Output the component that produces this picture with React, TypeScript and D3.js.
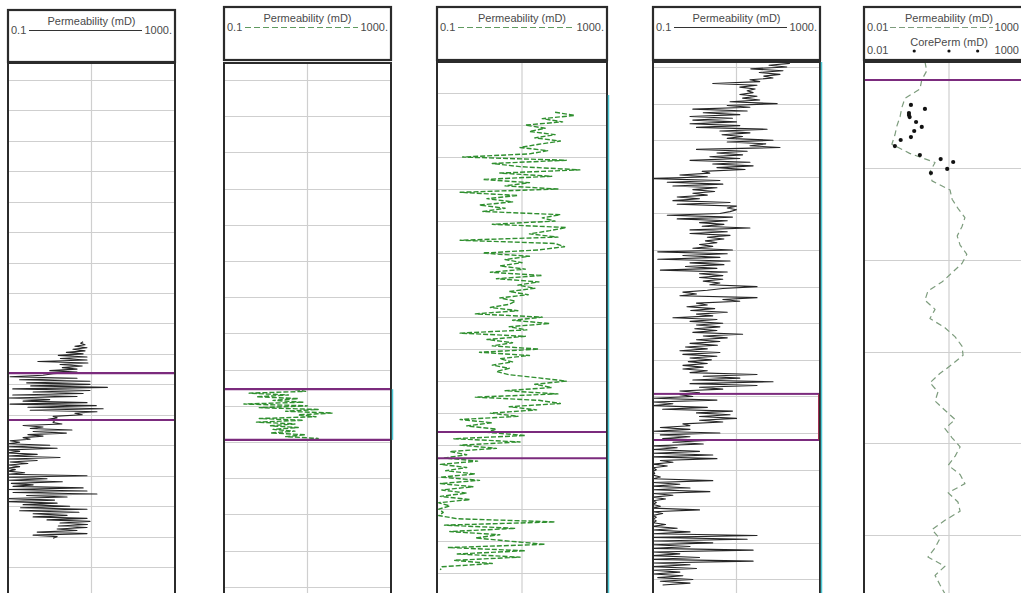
import { useEffect, useRef } from "react";
import * as d3 from "d3";

// ==== DATA (depth in ft, permeability in mD) ====

// track 1 - black permeability log, 0.5 ft sampling
const P1_START = 4756;
const P1_STEP = 0.5;
const P1_PERM = [
  6.3, 5.5, 7, 4, 7.8, 3.6, 7, 2.5, 6.3, 1.6, 7.8, 1.8, 7.8, 0.52, 8.2, 1.76, 6, 2, 4.5, 1.0,
  4.5, 1.2, 0.69, 0.112, 4.5, 0.19, 9.2, 0.28, 9.2, 0.35, 24, 0.13, 9.2, 0.4, 6.3, 0.13, 4.5, 0.1, 1.0, 0.23,
  7.8, 0.112, 13, 0.3, 19, 0.34, 13.5, 4, 6, 1.2, 1.5, 0.9, 1.3, 1.2, 1.96, 0.23, 0.69, 0.34, 3.4, 0.4,
  2.5, 0.3, 0.69, 0.23, 0.34, 0.112, 0.19, 0.1, 1.0, 0.1, 1.5, 0.1, 0.19, 0.1, 0.5, 0.1, 1.76, 0.1, 0.5, 0.112,
  0.3, 0.1, 0.19, 0.1, 0.15, 0.1, 0.25, 0.1, 7.8, 0.1, 0.86, 0.1, 2, 0.12, 0.4, 0.132, 6.3, 0.1, 7.8, 0.132,
  13.5, 0.28, 2.6, 0.1, 1.3, 0.1, 1.5, 0.23, 3, 0.2, 7.8, 0.19, 5, 0.4, 2.6, 0.4, 7.8, 0.86, 9.2, 1.76,
  8, 1.6, 7.8, 1.5, 4.5, 0.5, 7.8, 0.4, 1.5, 1.2,
];

// track 2 - green dashed log, 0.5 ft sampling
const P2_START = 4755.5;
const P2_STEP = 0.5;
const P2_PERM = [
  5, 9, 0.4, 3.5, 0.6, 6, 1.5, 8, 0.3, 10, 0.7, 18, 3, 40, 6, 16, 0.7, 8, 0.6, 5, 1.3,
  6, 1.5, 5, 1.3, 9, 3, 18, 8,
];

// track 3 - green dashed log, 1 ft sampling
const P3_START = 4676;
const P3_STEP = 1;
const P3_PERM = [
  60, 175, 30, 90, 12, 35, 15, 60, 20, 80, 25, 9, 40, 15, 0.4, 110, 2, 9, 230, 3,
  50, 1.2, 15, 4, 70, 0.35, 8, 1.5, 6, 1, 4, 1.2, 80, 30, 60, 2, 110, 45, 15, 70,
  0.35, 60, 100, 25, 1.2, 15, 4, 10, 3, 12, 1.8, 30, 2.5, 25, 8, 20, 5, 14, 3, 7,
  5, 1.8, 8, 0.8, 30, 6, 45, 5, 13, 0.35, 12, 1.5, 6, 2, 25, 1, 15, 3, 6, 2,
  5, 2.5, 5, 25, 110, 20, 50, 4, 70, 0.8, 25, 80, 5, 22, 1.8, 8, 0.35, 2, 0.5, 2.5,
  1.5, 12, 0.25, 9, 0.35, 2.5, 0.2, 0.5, 0.15, 0.9, 0.12, 0.5, 0.16, 0.8, 0.12, 1, 0.12, 0.7, 0.13, 0.5,
  0.12, 0.6, 0.11, 0.2, 0.11, 0.14, 0.11, 0.3, 60, 0.15, 7, 0.2, 3, 0.8, 5, 35, 0.18, 12, 0.3, 9,
  0.25, 2, 0.13, 0.12,
];

// track 4 - black permeability log, 0.5 ft sampling
const P4_START = 4669;
const P4_STEP = 0.5;
const P4_PERM = [
  190, 60, 160, 22, 130, 35, 110, 45, 75, 21, 36, 2.7, 31, 12, 28, 18, 25, 12, 31, 14,
  36, 7, 94, 6, 21, 0.9, 18, 1.6, 12, 0.77, 8, 0.9, 10, 0.77, 12, 1.1, 54, 4, 21, 4.5,
  14, 6, 75, 6, 50, 21, 110, 1.1, 18, 3.4, 14, 2.3, 12, 0.77, 21, 2.7, 25, 3.4, 16, 1.5,
  2.3, 0.44, 2, 0.1, 4, 0.22, 4.7, 0.3, 3.4, 0.9, 3, 0.9, 2, 0.38, 1.3, 0.3, 7, 0.38, 10, 6,
  10, 7, 4, 0.22, 8, 0.38, 6, 1.3, 5, 1.5, 21, 0.77, 6, 0.77, 7, 2, 5, 1.8, 3.4, 1.3,
  2.7, 0.9, 8, 0.13, 6, 0.52, 4, 0.13, 7, 0.77, 5, 0.6, 3.4, 0.15, 6, 1.3, 4.7, 1.3, 4.7, 1.6,
  4, 2.3, 31, 4.7, 2, 0.52, 1.1, 0.44, 31, 4.7, 12, 1.1, 2, 0.65, 3, 0.8, 6, 1.1, 2.7, 0.3,
  3.4, 0.77, 4.7, 1.1, 4, 1, 3.4, 0.9, 14, 1.6, 6, 1.1, 4, 0.77, 3.5, 0.6, 2, 0.44, 4, 0.52,
  3.4, 0.77, 2.5, 0.7, 2, 0.52, 1.6, 0.52, 2, 0.77, 31, 1.6, 12, 0.9, 75, 0.77, 31, 1.3, 4.7, 0.44,
  1.3, 0.44, 0.9, 0.1, 3.4, 0.1, 0.3, 0.1, 2, 0.17, 8, 1.1, 7, 1.3, 10, 1.3, 4.7, 0.52, 0.77, 0.15,
  0.77, 0.1, 4, 0.15, 0.77, 0.17, 2, 0.3, 1.6, 0.1, 0.38, 0.1, 1.3, 0.1, 2.7, 0.1, 3.4, 0.15, 0.3, 0.1,
  0.22, 0.1, 0.12, 0.1, 0.11, 0.1, 0.15, 0.1, 2.7, 0.1, 0.44, 0.1, 0.77, 0.1, 2.3, 0.1, 0.3, 0.1, 0.2, 0.1,
  0.12, 0.1, 0.15, 0.1, 1.3, 0.1, 0.17, 0.1, 0.12, 0.1, 0.12, 0.1, 0.2, 0.1, 0.38, 0.1, 0.77, 0.1, 31, 0.1,
  18, 0.1, 2.7, 0.1, 0.77, 0.1, 25, 0.1, 0.44, 0.1, 1.3, 0.1, 25, 0.1, 0.77, 0.1, 1.1, 0.1, 0.44, 0.1,
  0.52, 0.13, 0.9, 0.15, 0.77, 0.17,
];

// track 5 - smooth dashed log, 5 ft sampling, plus core plugs
const P5_START = 4642;
const P5_STEP = 5;
const P5_PERM = [
  0.62, 0.7, 0.5, 0.44, 0.16, 0.13, 0.115, 0.093, 0.081, 0.066, 0.22, 1.23, 0.87, 1.0, 3.4,
  3.9, 5.8, 9.3, 7.6, 5.5, 6.7, 10.6, 7.6, 3.9, 2.0, 0.76, 0.62, 1.23, 0.87, 2.4, 4.8, 7.6,
  8.2, 3.9, 1.7, 0.87, 1.5, 1.23, 2.4, 4.8, 2.4, 3.9, 6.7, 4.8, 3.0, 6.7, 9.3, 3.0, 5.8,
  6.7, 2.4, 1.0, 1.7, 1.23, 0.76, 2.4, 1.23, 1.7, 2.4,
];
const CORE_DEPTH = [
  4665.6, 4667.8, 4670.0, 4671.1, 4672.2, 4674.9, 4677.6, 4679.8, 4683.1, 4684.7, 4688.0,
  4692.9, 4695.1, 4696.7, 4700.5, 4702.7,
];
const CORE_PERM = [
  0.24, 0.62, 0.21, 0.21, 0.22, 0.34, 0.5, 0.3, 0.24, 0.12, 0.081, 0.44, 1.8, 4.2, 2.8, 0.93,
];

// zone markers (purple)
const ZONES_1 = [4766.3, 4781.7];
const ZONES_2 = [4755.4, 4769.4];
const ZONES_3 = [4775.9, 4784.1];
const ZONES_4 = [4759.3, 4771.9];
const ZONES_5 = [4652];

const H = 593;
const W = 1021;
const FONT = "'Liberation Sans', Arial, sans-serif";
const TEXT = "#4a4a4a";
const FRAME = "#2b2b2b";
const GRID = "#cfcfcf";
const PURPLE = "#7b2b7d";
const CYAN = "#4cc9d6";
const GREEN = "#2f8f2f";

const toSeries = (start: number, step: number, vals: number[]) =>
  vals.map((v, i) => [start + i * step, v] as [number, number]);

type Track = {
  id: string;
  left: number;
  width: number;
  headTop: number;
  headBottom: number;
  bodyTop: number;
  depth: [number, number];
  perm: [number, number];
  lo: string;
  hi: string;
  gridStart: number;
  gridStep: number;
  series: [number, number][];
  kind: "black" | "green" | "soft";
  zones: number[];
  box?: boolean;
  cyan?: [number, number];
  core?: boolean;
};

const TRACKS: Track[] = [
  {
    id: "t1", left: 8, width: 167, headTop: 10, headBottom: 62, bodyTop: 63,
    depth: [4664.5, 4838.5], perm: [0.1, 1000], lo: "0.1", hi: "1000.",
    gridStart: 4670, gridStep: 10, series: toSeries(P1_START, P1_STEP, P1_PERM),
    kind: "black", zones: ZONES_1,
  },
  {
    id: "t2", left: 224, width: 167, headTop: 7, headBottom: 60, bodyTop: 63,
    depth: [4665.3, 4811.7], perm: [0.1, 1000], lo: "0.1", hi: "1000.",
    gridStart: 4670, gridStep: 10, series: toSeries(P2_START, P2_STEP, P2_PERM),
    kind: "green", zones: ZONES_2, cyan: [4755.4, 4769.4],
  },
  {
    id: "t3", left: 437, width: 170, headTop: 7, headBottom: 60, bodyTop: 62,
    depth: [4660.3, 4826.2], perm: [0.1, 1000], lo: "0.1", hi: "1000.",
    gridStart: 4670, gridStep: 10, series: toSeries(P3_START, P3_STEP, P3_PERM),
    kind: "green", zones: ZONES_3, cyan: [4670.6, 4830],
  },
  {
    id: "t4", left: 653, width: 167, headTop: 7, headBottom: 60, bodyTop: 62,
    depth: [4668.63, 4813.7], perm: [0.1, 1000], lo: "0.1", hi: "1000.",
    gridStart: 4670, gridStep: 10, series: toSeries(P4_START, P4_STEP, P4_PERM),
    kind: "black", zones: ZONES_4, box: true, cyan: [4668.63, 4820],
  },
  {
    id: "t5", left: 864, width: 170, headTop: 7, headBottom: 60, bodyTop: 62,
    depth: [4642.2, 4931.6], perm: [0.01, 1000], lo: "0.01", hi: "1000",
    gridStart: 4700, gridStep: 50, series: toSeries(P5_START, P5_STEP, P5_PERM),
    kind: "soft", zones: ZONES_5, core: true,
  },
];

function drawTrack(root: d3.Selection<SVGSVGElement, unknown, null, undefined>, t: Track) {
  const right = t.left + t.width;
  const x = d3.scaleLog().domain(t.perm).range([t.left, right]);
  const y = d3.scaleLinear().domain(t.depth).range([t.bodyTop, H]);

  const g = root.append("g");
  const clipId = `clip-${t.id}`;
  g.append("clipPath")
    .attr("id", clipId)
    .append("rect")
    .attr("x", t.left)
    .attr("y", t.bodyTop)
    .attr("width", t.width)
    .attr("height", H - t.bodyTop);

  const body = g.append("g").attr("clip-path", `url(#${clipId})`);

  // depth grid
  const gridDepths = d3.range(t.gridStart, t.depth[1], t.gridStep);
  body.append("g")
    .selectAll("line")
    .data(gridDepths)
    .join("line")
    .attr("x1", t.left)
    .attr("x2", right)
    .attr("y1", (d) => Math.round(y(d)) + 0.5)
    .attr("y2", (d) => Math.round(y(d)) + 0.5)
    .attr("stroke", GRID)
    .attr("stroke-width", 1.2);

  // middle decade line
  const mid = x(Math.sqrt(t.perm[0] * t.perm[1]));
  body.append("line")
    .attr("x1", mid).attr("x2", mid)
    .attr("y1", t.bodyTop).attr("y2", H)
    .attr("stroke", GRID)
    .attr("stroke-width", 1.2);

  // log curve
  const logLine = d3.line<[number, number]>()
    .x((d) => x(d[1]))
    .y((d) => y(d[0]));

  const path = body.append("path")
    .attr("d", logLine(t.series) || "")
    .attr("fill", "none")
    .attr("stroke-linejoin", "round");
  if (t.kind === "black") {
    path.attr("stroke", "#262626").attr("stroke-width", 1.1);
  } else if (t.kind === "green") {
    path.attr("stroke", GREEN).attr("stroke-width", 1.4).attr("stroke-dasharray", "5 2");
  } else {
    path.attr("stroke", "#7d9c7d").attr("stroke-width", 1.2).attr("stroke-dasharray", "6 4");
  }

  // core plugs
  if (t.core) {
    body.append("g")
      .selectAll("circle")
      .data(CORE_DEPTH.map((d, i) => [d, CORE_PERM[i]] as [number, number]))
      .join("circle")
      .attr("cx", (d) => x(d[1]))
      .attr("cy", (d) => y(d[0]))
      .attr("r", 2.1)
      .attr("fill", "#111");
  }

  // zones
  if (t.box) {
    const y0 = y(t.zones[0]);
    const y1 = y(t.zones[1]);
    g.append("rect")
      .attr("x", t.left).attr("y", y0)
      .attr("width", t.width - 1).attr("height", y1 - y0)
      .attr("fill", "none")
      .attr("stroke", PURPLE)
      .attr("stroke-width", 2);
    g.append("line")
      .attr("x1", right - 1).attr("x2", right - 1)
      .attr("y1", y0).attr("y2", y1)
      .attr("stroke", "#b03246")
      .attr("stroke-width", 1.5);
  } else {
    g.append("g")
      .selectAll("line")
      .data(t.zones)
      .join("line")
      .attr("x1", t.left).attr("x2", right)
      .attr("y1", (d) => y(d)).attr("y2", (d) => y(d))
      .attr("stroke", PURPLE)
      .attr("stroke-width", 2.2);
  }

  // frames
  g.append("rect")
    .attr("x", t.left).attr("y", t.headTop)
    .attr("width", t.width).attr("height", t.headBottom - t.headTop)
    .attr("fill", "none").attr("stroke", FRAME).attr("stroke-width", 2.2);
  g.append("rect")
    .attr("x", t.left).attr("y", t.bodyTop)
    .attr("width", t.width).attr("height", H + 10 - t.bodyTop)
    .attr("fill", "none").attr("stroke", FRAME).attr("stroke-width", 2);

  if (t.cyan) {
    g.append("line")
      .attr("x1", right + 1.5).attr("x2", right + 1.5)
      .attr("y1", y(t.cyan[0])).attr("y2", y(t.cyan[1]))
      .attr("stroke", CYAN).attr("stroke-width", 1.5);
  }

  // header
  const head = g.append("g")
    .attr("font-family", FONT)
    .attr("font-size", 11)
    .attr("fill", TEXT);
  const cx = (t.left + right) / 2;
  const rowY = t.headTop + 24;
  head.append("text")
    .attr("x", t.core ? mid : cx).attr("y", t.headTop + 15)
    .attr("text-anchor", "middle")
    .text("Permeability (mD)");
  head.append("text").attr("x", t.left + 3).attr("y", rowY).text(t.lo);
  head.append("text")
    .attr("x", t.core ? W - 2 : right - 3).attr("y", rowY)
    .attr("text-anchor", "end")
    .text(t.hi);

  const lineStart = t.left + (t.core ? 26 : 21);
  const lineEnd = t.core ? W - 28 : right - 33;
  const hl = head.append("line")
    .attr("x1", lineStart).attr("x2", lineEnd)
    .attr("y1", rowY - 3.5).attr("y2", rowY - 3.5)
    .attr("stroke-width", 1.2);
  if (t.kind === "black") hl.attr("stroke", "#333");
  else hl.attr("stroke", t.kind === "green" ? "#5f9a5f" : "#7d9c7d").attr("stroke-dasharray", "6 3");

  if (t.core) {
    const row2 = t.headTop + 47;
    head.append("text")
      .attr("x", mid).attr("y", t.headTop + 39)
      .attr("text-anchor", "middle")
      .text("CorePerm (mD)");
    head.append("text").attr("x", t.left + 3).attr("y", row2).text("0.01");
    head.append("text")
      .attr("x", W - 2).attr("y", row2)
      .attr("text-anchor", "end")
      .text("1000");
    head.append("g")
      .selectAll("circle")
      .data([0.3, 3.16, 22])
      .join("circle")
      .attr("cx", (d) => x(d))
      .attr("cy", row2 - 3)
      .attr("r", 1.6)
      .attr("fill", "#111");
  }
}

export default function App() {
  const svgRef = useRef<SVGSVGElement | null>(null);

  useEffect(() => {
    if (!svgRef.current) return;
    const svg = d3.select(svgRef.current);
    svg.selectAll("*").remove();
    TRACKS.forEach((t) => drawTrack(svg, t));
  }, []);

  return (
    <div style={{ position: "fixed", left: 0, top: 0, width: W, height: H, background: "#fff" }}>
      <svg ref={svgRef} width={W} height={H} style={{ display: "block" }} />
    </div>
  );
}
